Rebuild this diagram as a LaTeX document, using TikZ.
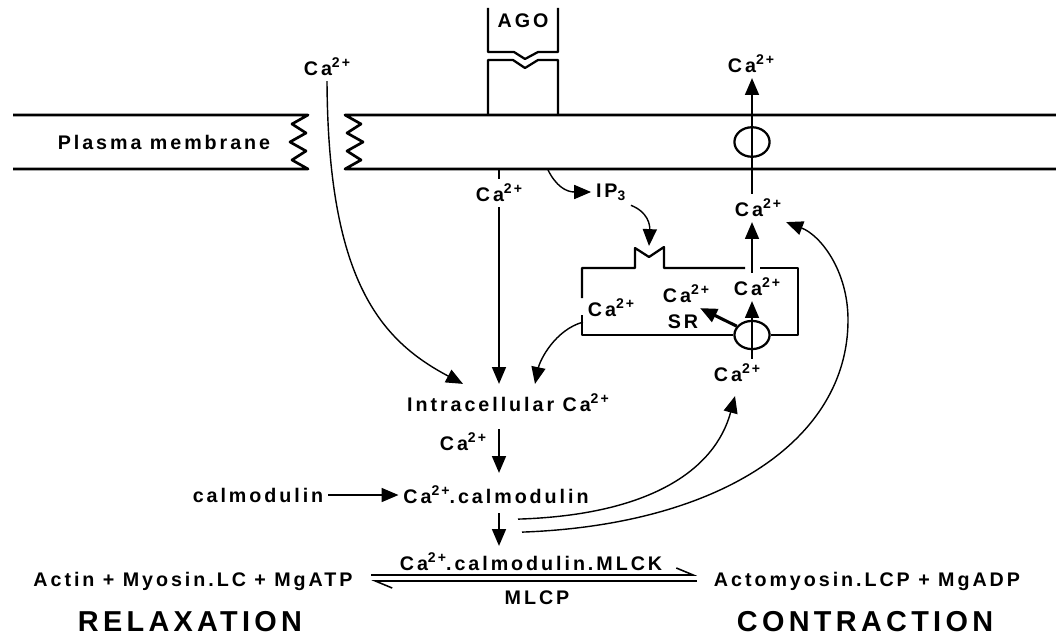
\documentclass[tikz,border=0pt]{standalone}
\usepackage{fontspec}
\setmainfont{Liberation Sans}[LetterSpace=15]
\usetikzlibrary{arrows.meta,calc,positioning,shapes.geometric}

\newcommand{\cion}{Ca\raisebox{0.42em}{\fontsize{10}{10}\selectfont 2+}}

\begin{document}
\begin{tikzpicture}[x=0.025cm,y=-0.025cm,
  font=\fontsize{14}{16}\selectfont\bfseries,line join=round,
  >={Triangle[length=12pt,width=10pt]},
  memb/.style={line width=1.9pt},
  wall/.style={line width=1.6pt},
  caflow/.style={->,line width=1pt},
  fwd/.style={-{Straight Barb[harpoon,length=12pt,width=10pt]},line width=1.1pt},
  statelbl/.style={font=\fontsize{20.5}{23}\selectfont\bfseries}]
  \useasboundingbox (0,0) rectangle (1056,636);

  % ---- plasma membrane -------------------------------------------------
  \draw[memb] (13,115) -- (308,115) -- (292,124) -- (306,133) -- (290,142)
        -- (306,151) -- (292,160) -- (308,169) -- (13,169);
  \draw[memb] (1056,115) -- (345,115) -- (361,124) -- (347,133) -- (363,142)
        -- (347,151) -- (361,160) -- (345,169) -- (1056,169);
  \node (pm) at (164,142) {Plasma membrane};

  % ---- agonist on its receptor -----------------------------------------
  \draw[wall] (488,8) -- (488,52) -- (514,52) -- (525,59) -- (538,52)
        -- (558,52) -- (558,8);
  \draw[wall] (488,115) -- (488,60) -- (513,60) -- (525,68) -- (538,60)
        -- (558,60) -- (558,115);
  \node (ago) at (523,21) {AGO};

  % ---- membrane channel ------------------------------------------------
  \node[ellipse,draw,wall,minimum width=25pt,minimum height=21pt] (chan) at (752,142) {};
  \node (catop) at (751,64) {\cion};
  \node (caex) at (758,208) {\cion};

  % ---- outside Ca and the two first routes -----------------------------
  \node (caout) at (327,67) {\cion};
  \node (cain) at (499,193) {\cion};
  \node (ip3) at (611,192) {IP\textsubscript{3}};
  \coordinate (plc) at (548,170);
  \coordinate (ipr) at (649,246);

  % ---- sarcoplasmic reticulum ------------------------------------------
  \node[ellipse,draw,wall,minimum width=25pt,minimum height=20pt] (pump) at (752,335) {};
  \draw[wall] (582,298) -- (582,268) -- (635,268) -- (635,248) -- (649,257)
        -- (664,247) -- (664,268) -- (745,268);
  \draw[wall] (760,268) -- (798,268) -- (798,335) -- (pump.east);
  \draw[wall] (pump.west) -- (582,335) -- (582,315);
  \node (casr) at (611,308) {\cion};
  \node (casr2) at (686,294) {\cion};
  \node (sr) at (683,322) {SR};
  \node (casr3) at (757,287) {\cion};
  \node (capump) at (737,373) {\cion};

  % ---- cytosol ---------------------------------------------------------
  \node (intra) at (508,403) {Intracellular \cion};
  \node (cacal) at (463,442) {\cion};
  \node (calm) at (258,495) {calmodulin};
  \node (cacm) at (496,495) {\cion.calmodulin};
  \node (mlck) at (531,562) {\cion.calmodulin.MLCK};
  \node (lhs) at (193,581) {Actin + Myosin.LC + MgATP};
  \node (rhs) at (867,581) {Actomyosin.LCP + MgADP};
  \node (mlcp) at (537,598) {MLCP};
  \node[statelbl] (relax) at (190,622) {RELAXATION};
  \node[statelbl] (contr) at (865,622) {CONTRACTION};

  % ---- arrows ----------------------------------------------------------
  \draw[caflow] (caout.south) .. controls (328,280) and (380,340)
        .. ($(intra.north)+(-45,-5)$);
  \draw[line width=1pt] (cain.north) -- ++(0,-11);
  \draw[caflow] (cain.south) -- ($(cain.south |- intra.north)+(0,-5)$);
  \draw[caflow] (casr.south west) .. controls (555,330) and (540,360)
        .. ($(intra.north)+(27,-5)$);
  \draw[caflow] (plc) .. controls (556,186) and (566,192) .. (ip3.west);
  \draw[caflow] (ip3.south east) .. controls (648,212) and (650,225) .. (ipr);
  \draw[caflow] (caex.north -| chan) -- (catop.south -| chan);
  \draw[caflow] (casr3.north -| chan) -- (caex.south -| chan);
  \draw[caflow] (capump.north -| pump) -- (casr3.south -| pump);
  \draw[->,line width=2.2pt] (pump.150) -- ($(casr2.south east)+(-14,0)$);
  \draw[caflow] ($(intra.south -| cain)+(0,12)$) -- ($(cacm.north -| cain)+(0,-8)$);
  \draw[caflow] (calm) -- (cacm);
  \draw[caflow] ($(cacm.south -| cain)+(0,4)$) -- ($(mlck.north -| cain)+(0,-2)$);
  \draw[caflow] ($(cacm.south)+(22,10)$) .. controls (650,515) and (715,470)
        .. ($(capump.south)+(-2,9)$);
  \draw[caflow] ($(cacm.south)+(26,23)$) .. controls (720,525) and (848,440)
        .. (848,320) .. controls (848,270) and (820,235) .. (caex.south east);

  % ---- equilibrium -----------------------------------------------------
  \draw[fwd] ($(lhs.east)+(14,-6)$) -- ($(rhs.west)+(-12,-6)$);
  \draw[fwd] ($(rhs.west)+(-12,0)$) -- ($(lhs.east)+(14,0)$);
\end{tikzpicture}
\end{document}
